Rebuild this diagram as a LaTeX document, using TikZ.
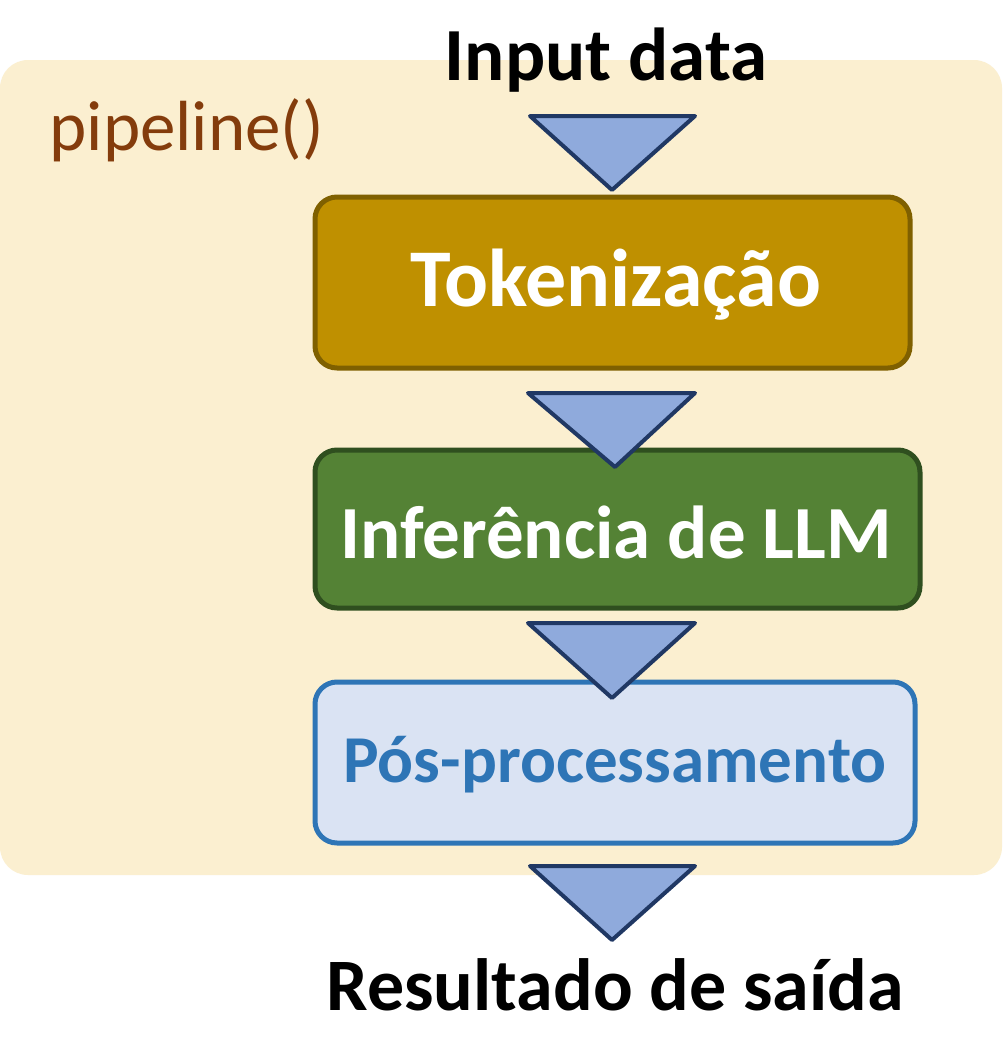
\documentclass[tikz,border=0pt]{standalone}
\usepackage{fontspec}
\setmainfont{Carlito}
\definecolor{bgy}{HTML}{FBEFD0}
\definecolor{triblue}{HTML}{8FAADC}
\definecolor{tribd}{HTML}{203864}
\definecolor{gold}{HTML}{BF9000}
\definecolor{goldd}{HTML}{7F6000}
\definecolor{grn}{HTML}{548235}
\definecolor{grnd}{HTML}{2F4F1F}
\definecolor{lblue}{HTML}{DAE3F3}
\definecolor{mblue}{HTML}{2E75B6}
\definecolor{brn}{HTML}{843C0C}
\begin{document}
\begin{tikzpicture}[x=1pt,y=-1pt,
  tri/.style={fill=triblue,draw=tribd,line width=4pt,line join=round},
  box/.style={rounded corners=22pt,line width=5pt},
  lbl/.style={font=\bfseries\fontsize{#1}{#1}\selectfont}]
\useasboundingbox (0,0) rectangle (1008,1060);
\fill[white] (0,0) rectangle (1008,1060);
\fill[bgy,rounded corners=28pt] (0,60) rectangle (1002,875);
\node[anchor=west,text=brn,font=\fontsize{71}{71}\selectfont] (pl) at (46,130) {pipeline()};
\node[lbl=75] (in) at (606,60) {Input data};
\draw[box,fill=gold,draw=goldd] (315,197) rectangle (910,368);
\node[lbl=82,text=white] (tok) at (616,285) {Tokenização};
\draw[box,fill=grn,draw=grnd] (315,450) rectangle (920,608);
\node[lbl=75,text=white] (inf) at (616,532) {Inferência de LLM};
\draw[box,fill=lblue,draw=mblue] (315,682) rectangle (915,843);
\node[lbl=67,text=mblue] (pos) at (615,765) {Pós-processamento};
\draw[tri] (530,116) -- (695,116) -- (612,190) -- cycle;
\draw[tri] (528,393) -- (695,393) -- (615,467) -- cycle;
\draw[tri] (528,623) -- (695,623) -- (612,698) -- cycle;
\draw[tri] (530,866) -- (695,866) -- (612,940) -- cycle;
\node[lbl=74] (res) at (615,985) {Resultado de saída};
\end{tikzpicture}
\end{document}
